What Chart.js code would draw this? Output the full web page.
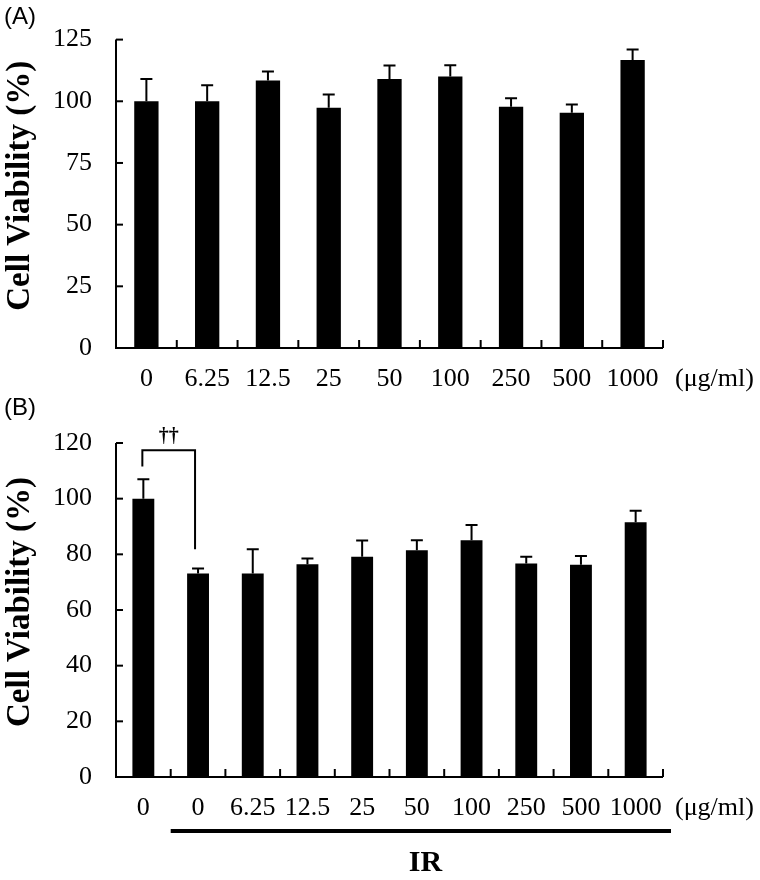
<!DOCTYPE html>
<html lang="en">
<head>
<meta charset="UTF-8">
<title>Cell Viability</title>
<script src="https://cdn.jsdelivr.net/npm/chart.js"></script>
<style>
    body { margin: 0; background: #fff; }
    .wrap { position: relative; width: 760px; height: 880px; }
    .panel { position: absolute; left: 0; width: 760px; }
    #pa { top: 0; height: 400px; }
    #pb { top: 400px; height: 480px; }
    .tag { position: absolute; left: 4px; font-family: 'Liberation Sans', Arial, sans-serif; font-size: 24px; color: #000; }
</style>
</head>
<body>
<div class="wrap">
    <div class="panel" id="pa"><canvas id="chartA" width="760" height="400"></canvas></div>
    <div class="panel" id="pb"><canvas id="chartB" width="760" height="480"></canvas></div>
    <div class="tag" style="top:2px">(A)</div>
    <div class="tag" style="top:393px">(B)</div>
</div>
<script>
// data
const catsA = ['0', '6.25', '12.5', '25', '50', '100', '250', '500', '1000'];
const valsA = [100, 100, 108.4, 97.4, 109, 110, 97.8, 95.4, 116.7];
const errA  = [9, 6.5, 3.7, 5.3, 5.5, 4.6, 3.4, 3.3, 4.3];
const ticksA = [0, 25, 50, 75, 100, 125];

const catsB = ['0', '0', '6.25', '12.5', '25', '50', '100', '250', '500', '1000'];
const valsB = [100, 73.1, 73.1, 76.4, 79.1, 81.5, 85.1, 76.7, 76.3, 91.5];
const errB  = [7, 1.8, 8.7, 2.1, 5.9, 3.6, 5.4, 2.4, 3.1, 4.2];
const ticksB = [0, 20, 40, 60, 80, 100, 120];

// bracket between control and IR 0 (values on the y scale)
const bracketTop = 117.4, bracketLeftEnd = 111.6, bracketRightEnd = 81.8;

const yTitle = 'Cell Viability (%)';
const unitLabel = '(\u03bcg/ml)';
const serif = "'Liberation Serif', 'Times New Roman', serif";

// axes lines, inward ticks, error bars, titles
function decorPlugin(errs, yTicks, extra) {
    return {
        id: 'decor',
        afterDatasetsDraw(chart) {
            const ctx = chart.ctx;
            const x = chart.scales.x, y = chart.scales.y;
            const area = chart.chartArea;
            const n = chart.data.labels.length;
            const vals = chart.data.datasets[0].data;
            ctx.save();
            ctx.strokeStyle = '#000';
            ctx.fillStyle = '#000';
            ctx.lineWidth = 2;
            // axes
            ctx.beginPath();
            ctx.moveTo(area.left, area.top);
            ctx.lineTo(area.left, area.bottom);
            ctx.lineTo(area.right, area.bottom);
            ctx.stroke();
            // y ticks (inward)
            yTicks.forEach(v => {
                const py = y.getPixelForValue(v);
                ctx.beginPath();
                ctx.moveTo(area.left, py);
                ctx.lineTo(area.left + 7, py);
                ctx.stroke();
            });
            // x ticks between categories (inward)
            for (let i = 1; i <= n; i++) {
                const px = x.getPixelForValue(i - 0.5);
                ctx.beginPath();
                ctx.moveTo(px, area.bottom);
                ctx.lineTo(px, area.bottom - 8);
                ctx.stroke();
            }
            // error bars
            errs.forEach((e, i) => {
                const px = x.getPixelForValue(i);
                const top = y.getPixelForValue(vals[i] + e);
                const base = y.getPixelForValue(vals[i]);
                ctx.beginPath();
                ctx.moveTo(px, base);
                ctx.lineTo(px, top);
                ctx.moveTo(px - 6, top);
                ctx.lineTo(px + 6, top);
                ctx.stroke();
            });
            // unit label
            ctx.font = '26px ' + serif;
            ctx.textAlign = 'left';
            ctx.textBaseline = 'middle';
            ctx.fillText(unitLabel, area.right + 12, area.bottom + 31);
            // y axis title
            ctx.save();
            ctx.translate(20, (area.top + area.bottom) / 2 - 8);
            ctx.rotate(-Math.PI / 2);
            ctx.textAlign = 'center';
            ctx.font = 'bold 33px ' + serif;
            ctx.fillText(yTitle, 0, 0);
            ctx.restore();
            if (extra) extra(chart, ctx);
            ctx.restore();
        }
    };
}

function makeChart(id, cats, vals, yMax, yStep, yTicks, errs, pad, xHeight, extra) {
    return new Chart(document.getElementById(id), {
        type: 'bar',
        data: {
            labels: cats,
            datasets: [{
                data: vals,
                backgroundColor: '#000',
                borderWidth: 0,
                barPercentage: 0.4,
                categoryPercentage: 1
            }]
        },
        options: {
            responsive: false,
            animation: false,
            layout: { padding: pad },
            plugins: { legend: { display: false }, tooltip: { enabled: false } },
            scales: {
                x: {
                    grid: { display: false, drawTicks: false },
                    border: { display: false },
                    ticks: { color: '#000', font: { family: serif, size: 26 }, padding: 16, maxRotation: 0, autoSkip: false },
                    afterFit(s) { s.height = xHeight; }
                },
                y: {
                    min: 0, max: yMax,
                    grid: { display: false, drawTicks: false },
                    border: { display: false },
                    ticks: { stepSize: yStep, color: '#000', font: { family: serif, size: 26 }, padding: 24 },
                    afterFit(s) { s.width = 116; }
                }
            }
        },
        plugins: [decorPlugin(errs, yTicks, extra)]
    });
}

makeChart('chartA', catsA, valsA, 125, 25, ticksA, errA,
    { top: 14, right: 97, left: 0, bottom: 0 }, 52, null);

makeChart('chartB', catsB, valsB, 120, 20, ticksB, errB,
    { top: 43, right: 97, left: 0, bottom: 0 }, 103, (chart, ctx) => {
        const x = chart.scales.x, y = chart.scales.y;
        const area = chart.chartArea;
        const x0 = x.getPixelForValue(0) - 1;
        const x1 = x.getPixelForValue(1) - 3;
        const yt = y.getPixelForValue(bracketTop);
        ctx.beginPath();
        ctx.moveTo(x0, y.getPixelForValue(bracketLeftEnd));
        ctx.lineTo(x0, yt);
        ctx.lineTo(x1, yt);
        ctx.lineTo(x1, y.getPixelForValue(bracketRightEnd));
        ctx.stroke();
        ctx.font = 'bold 20px ' + serif;
        ctx.textAlign = 'center';
        ctx.textBaseline = 'middle';
        ctx.fillText('\u2020\u2020', (x0 + x1) / 2, yt - 13);
        // IR underline from the IR group start to past the axis end
        const ly = area.bottom + 54;
        ctx.lineWidth = 4;
        ctx.beginPath();
        ctx.moveTo(x.getPixelForValue(0.5), ly);
        ctx.lineTo(area.right + 8, ly);
        ctx.stroke();
        ctx.font = 'bold 30px ' + serif;
        ctx.fillText('IR', (area.left + area.right) / 2 + 36, area.bottom + 86);
    });
</script>
</body>
</html>
